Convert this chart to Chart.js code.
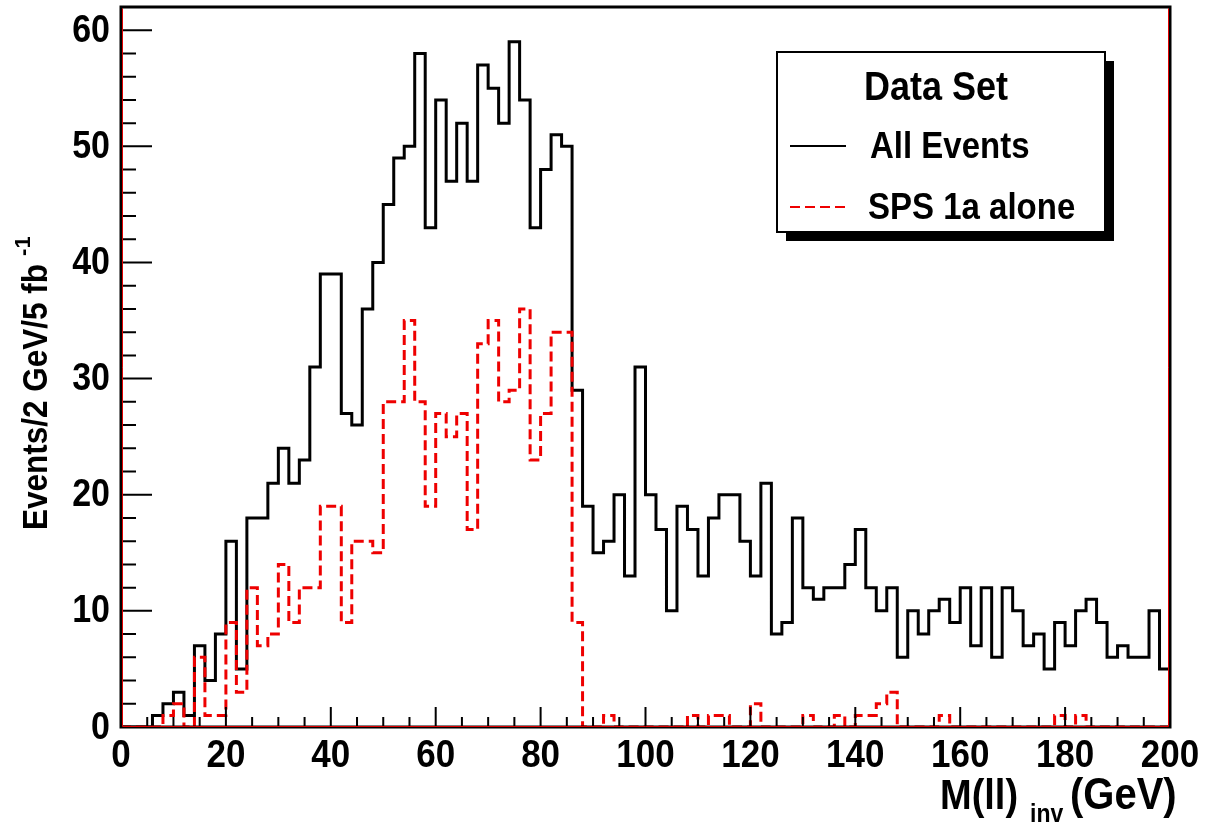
<!DOCTYPE html>
<html>
<head>
<meta charset="utf-8">
<script src="https://cdn.jsdelivr.net/npm/chart.js@4"></script>
<style>
  body { margin: 0; background: #fff; }
  #histo { display: block; }
</style>
</head>
<body>
<canvas id="histo" width="1207" height="826"></canvas>
<script>
// Dilepton invariant mass, 2 GeV bins from 0 to 200 GeV
var binWidth = 2;

var allEvents = [
  0, 0, 0, 1, 2, 3, 1, 7, 4, 8,
  16, 5, 18, 18, 21, 24, 21, 23, 31, 39,
  39, 27, 26, 36, 40, 45, 49, 50, 58, 43,
  54, 47, 52, 47, 57, 55, 52, 59, 54, 43,
  48, 51, 50, 29, 19, 15, 16, 20, 13, 31,
  20, 17, 10, 19, 17, 13, 18, 20, 20, 16,
  13, 21, 8, 9, 18, 12, 11, 12, 12, 14,
  17, 12, 10, 12, 6, 10, 8, 10, 11, 9,
  12, 7, 12, 6, 12, 10, 7, 8, 5, 9,
  7, 10, 11, 9, 6, 7, 6, 6, 10, 5
];

var sps1aAlone = [
  0, 0, 0, 0, 1, 2, 0, 6, 1, 1,
  9, 3, 12, 7, 8, 14, 9, 12, 12, 19,
  19, 9, 16, 16, 15, 28, 28, 35, 28, 19,
  27, 25, 27, 17, 33, 35, 28, 29, 36, 23,
  27, 34, 34, 9, 0, 0, 1, 0, 0, 0,
  0, 0, 0, 0, 1, 0, 1, 1, 0, 0,
  2, 0, 0, 0, 0, 1, 0, 0, 1, 0,
  1, 1, 2, 3, 0, 0, 0, 0, 1, 0,
  0, 0, 0, 0, 0, 0, 0, 0, 0, 1,
  0, 1, 0, 0, 0, 0, 0, 0, 0, 0
];

var legendTitle = 'Data Set';
var seriesNames = ['All Events', 'SPS 1a alone'];
var xTitle = ['M(ll)', 'inv', '(GeV)'];
var yTitle = ['Events/2 GeV/5 fb', '-1'];

var FONT = '"Liberation Sans", Arial, Helvetica, sans-serif';
var TEXT_STRETCH = 1.12;

// left bin edges plus the closing edge, drawn as a step outline
function histPoints(counts) {
  var pts = counts.map(function (v, i) { return { x: i * binWidth, y: v }; });
  pts.push({ x: counts.length * binWidth, y: counts[counts.length - 1] });
  return pts;
}

function stretchedText(ctx, text, x, y, size, align, baseline) {
  ctx.save();
  ctx.font = 'bold ' + size + 'px ' + FONT;
  ctx.textAlign = align || 'left';
  ctx.textBaseline = baseline || 'middle';
  ctx.translate(x, y);
  ctx.scale(1, TEXT_STRETCH);
  ctx.fillText(text, 0, 0);
  ctx.restore();
}

// frame, inward ticks, tick labels, axis titles and the shadowed legend box
var rootStyle = {
  id: 'rootStyle',
  afterDraw: function (chart) {
    var ctx = chart.ctx;
    var a = chart.chartArea;
    var xs = chart.scales.x, ys = chart.scales.y;
    ctx.save();

    // ticks
    ctx.strokeStyle = '#000';
    ctx.lineWidth = 2;
    ctx.beginPath();
    for (var gx = 5; gx < 200; gx += 5) {
      var px = xs.getPixelForValue(gx);
      var len = gx % 20 === 0 ? 20 : 10;
      ctx.moveTo(px, a.bottom);
      ctx.lineTo(px, a.bottom - len);
    }
    for (var gy = 2; gy <= 62; gy += 2) {
      var py = ys.getPixelForValue(gy);
      var l = gy % 10 === 0 ? 31 : 15;
      ctx.moveTo(a.left, py);
      ctx.lineTo(a.left + l, py);
    }
    ctx.stroke();

    // frame
    ctx.lineWidth = 3;
    ctx.strokeStyle = '#000';
    ctx.strokeRect(a.left, a.top, a.right - a.left, a.bottom - a.top);
    ctx.lineWidth = 1;
    ctx.strokeStyle = '#e00000';
    ctx.beginPath();
    ctx.moveTo(a.left + 1.5, a.top + 1.5);
    ctx.lineTo(a.left + 1.5, a.bottom - 0.5);
    ctx.lineTo(a.right - 1.5, a.bottom - 0.5);
    ctx.lineTo(a.right - 1.5, a.top + 1.5);
    ctx.stroke();

    ctx.fillStyle = '#000';

    // tick labels
    xs.ticks.forEach(function (t) {
      stretchedText(ctx, String(t.value), xs.getPixelForValue(t.value), 756, 35, 'center');
    });
    ys.ticks.forEach(function (t) {
      stretchedText(ctx, String(t.value), 110, ys.getPixelForValue(t.value) + 1, 34, 'right');
    });

    // x title with subscript
    stretchedText(ctx, xTitle[0], 940, 797, 38, 'left');
    stretchedText(ctx, xTitle[1], 1030, 815, 23, 'left');
    stretchedText(ctx, xTitle[2], 1070, 797, 40, 'left');

    // y title with superscript, rotated
    ctx.save();
    ctx.translate(37, 530);
    ctx.rotate(-Math.PI / 2);
    ctx.font = 'bold 31.5px ' + FONT;
    ctx.textAlign = 'left';
    ctx.textBaseline = 'middle';
    ctx.save();
    ctx.scale(1, TEXT_STRETCH);
    ctx.fillText(yTitle[0], 0, 0);
    ctx.restore();
    var w = ctx.measureText(yTitle[0]).width;
    ctx.font = 'bold 22px ' + FONT;
    ctx.fillText(yTitle[1], w + 8, -13);
    ctx.restore();

    // legend box with drop shadow
    var bx = 777, by = 52, bw = 328, bh = 180;
    ctx.fillStyle = '#000';
    ctx.fillRect(bx + 9, by + 9, bw, bh);
    ctx.fillStyle = '#fff';
    ctx.fillRect(bx, by, bw, bh);
    ctx.lineWidth = 2;
    ctx.strokeStyle = '#000';
    ctx.strokeRect(bx, by, bw, bh);

    ctx.fillStyle = '#000';
    stretchedText(ctx, legendTitle, 936, 89, 36, 'center');

    var ds = chart.data.datasets;
    var rows = [148, 209];
    [1, 0].forEach(function (idx, r) {
      var d = ds[idx];
      ctx.save();
      ctx.strokeStyle = d.borderColor;
      ctx.lineWidth = 2;
      ctx.setLineDash(d.borderDash || []);
      ctx.beginPath();
      ctx.moveTo(790, rows[r] - 2);
      ctx.lineTo(846, rows[r] - 2);
      ctx.stroke();
      ctx.restore();
      ctx.fillStyle = '#000';
      stretchedText(ctx, d.label, r === 0 ? 870 : 868, rows[r], 33, 'left');
    });

    ctx.restore();
  }
};

var ctx = document.getElementById('histo').getContext('2d');
var chart = new Chart(ctx, {
  type: 'line',
  data: {
    datasets: [{
      label: seriesNames[1],
      data: histPoints(sps1aAlone),
      borderColor: '#ee0000',
      borderWidth: 3,
      borderDash: [10, 5],
      stepped: true,
      pointRadius: 0,
      fill: false,
      order: 0
    }, {
      label: seriesNames[0],
      data: histPoints(allEvents),
      borderColor: '#000000',
      borderWidth: 3,
      stepped: true,
      pointRadius: 0,
      fill: false,
      order: 1
    }]
  },
  options: {
    responsive: false,
    animation: false,
    layout: { padding: { top: 7, right: 37, left: 0, bottom: 0 } },
    plugins: {
      legend: { display: false },
      tooltip: { enabled: false }
    },
    scales: {
      x: {
        type: 'linear',
        min: 0,
        max: 200,
        grid: { display: false, drawTicks: false },
        border: { display: false },
        ticks: { stepSize: 20, display: false },
        afterFit: function (scale) { scale.height = 99; }
      },
      y: {
        min: 0,
        max: 62,
        grid: { display: false, drawTicks: false },
        border: { display: false },
        ticks: { stepSize: 10, includeBounds: false, display: false },
        afterFit: function (scale) { scale.width = 121; }
      }
    }
  },
  plugins: [rootStyle]
});
</script>
</body>
</html>
